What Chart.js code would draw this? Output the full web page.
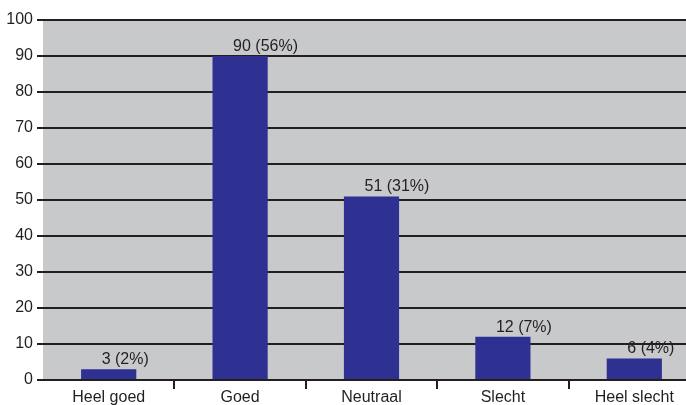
<!DOCTYPE html>
<html lang="nl">
<head>
    <meta charset="UTF-8">
    <title>Beoordeling</title>
    <script src="https://cdn.jsdelivr.net/npm/chart.js"></script>
    <style>
        body { margin: 0; overflow: hidden; background: #fff; }
        #wrap { width: 706px; height: 405px; }
    </style>
</head>
<body>
    <div id="wrap"><canvas id="myChart"></canvas></div>

    <script>
        const categories = ["Heel goed", "Goed", "Neutraal", "Slecht", "Heel slecht"];
        const counts = [3, 90, 51, 12, 6];
        const percentages = [2, 56, 31, 7, 4];
        const yTicks = [0, 10, 20, 30, 40, 50, 60, 70, 80, 90, 100];

        const FONT = "'Liberation Sans', Arial, sans-serif";
        const TEXT = "#231f20";

        // grijze achtergrond van het plotgebied
        const plotBackground = {
            id: "plotBackground",
            beforeDraw(chart) {
                const a = chart.chartArea;
                const ctx = chart.ctx;
                ctx.save();
                ctx.fillStyle = "#c8c9cb";
                ctx.fillRect(a.left, a.top, a.right - a.left, a.bottom - a.top);
                ctx.restore();
            }
        };

        // labels boven de staven: "90 (56%)"
        const barLabels = {
            id: "barLabels",
            afterDatasetsDraw(chart) {
                const ctx = chart.ctx;
                const meta = chart.getDatasetMeta(0);
                ctx.save();
                ctx.font = "16px " + FONT;
                ctx.fillStyle = TEXT;
                ctx.textAlign = "left";
                ctx.textBaseline = "alphabetic";
                meta.data.forEach((bar, i) => {
                    ctx.fillText(counts[i] + " (" + percentages[i] + "%)", bar.x - 7, bar.y - 5);
                });
                ctx.restore();
            }
        };

        const ctx = document.getElementById("myChart").getContext("2d");
        new Chart(ctx, {
            type: "bar",
            data: {
                labels: categories,
                datasets: [{
                    data: counts,
                    backgroundColor: "#2e3192",
                    borderWidth: 0,
                    barPercentage: 0.42,
                    categoryPercentage: 1
                }]
            },
            options: {
                responsive: true,
                maintainAspectRatio: false,
                animation: false,
                layout: { padding: { top: 20, right: 6, left: 0, bottom: 0 } },
                plugins: {
                    legend: { display: false },
                    tooltip: { enabled: false }
                },
                scales: {
                    x: {
                        offset: true,
                        border: { display: false },
                        grid: {
                            offset: true,
                            drawOnChartArea: false,
                            tickLength: 9,
                            color: c => (c.index === 0 ? "rgba(0,0,0,0)" : TEXT),
                            lineWidth: 2
                        },
                        ticks: {
                            color: TEXT,
                            font: { family: FONT, size: 16 },
                            padding: -1,
                            maxRotation: 0
                        },
                        afterFit(scale) { scale.height = 25; }
                    },
                    y: {
                        min: 0,
                        max: 100,
                        afterBuildTicks(scale) {
                            scale.ticks = yTicks.map(v => ({ value: v }));
                        },
                        border: { display: false },
                        grid: {
                            color: TEXT,
                            lineWidth: 2,
                            tickLength: 6
                        },
                        ticks: {
                            color: TEXT,
                            font: { family: FONT, size: 16 },
                            padding: 4
                        },
                        afterFit(scale) { scale.width = 43; }
                    }
                }
            },
            plugins: [plotBackground, barLabels]
        });
    </script>
</body>
</html>
